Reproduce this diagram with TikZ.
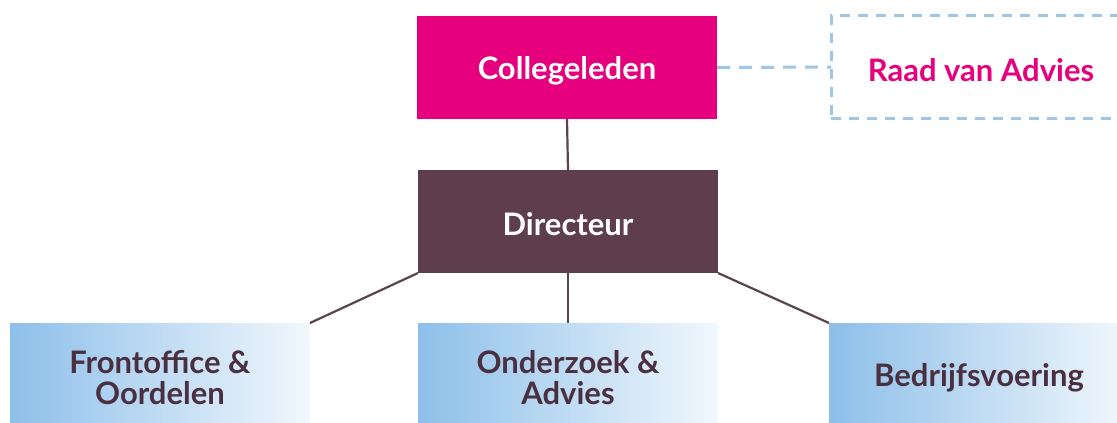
\documentclass[tikz,border=0pt]{standalone}
\usepackage{fontspec}
\setmainfont{Lato}[UprightFont=* Bold]
\definecolor{pinkc}{HTML}{E6007E}
\definecolor{mauve}{HTML}{5E3D4D}
\definecolor{dashblue}{HTML}{9EC6E6}
\definecolor{gradL}{HTML}{8DBFE9}
\definecolor{gradR}{HTML}{F2F8FD}
\definecolor{txtdark}{HTML}{4A2F40}
\definecolor{linec}{HTML}{5A4450}
\begin{document}
\begin{tikzpicture}[x=1pt,y=-1pt,
  box/.style={minimum width=300pt,minimum height=103pt,inner sep=0pt,outer sep=0pt},
  lbl/.style={align=center,font=\fontsize{31}{31}\selectfont,inner sep=0pt,yshift=-3pt},
  topbox/.style={box,fill=pinkc},
  dirbox/.style={box,fill=mauve},
  advbox/.style={box,draw=dashblue,line width=3pt,dash pattern=on 10pt off 8pt},
  unitbox/.style={box,left color=gradL,right color=gradR},
  conn/.style={draw=linec,line width=2.2pt},
  dconn/.style={draw=dashblue,line width=3pt,dash pattern=on 13pt off 9pt}]
\useasboundingbox (0,0) rectangle (1117,423);
\clip (0,0) rectangle (1117,423);
\fill[white] (0,0) rectangle (1117,423);
\node[topbox,label={[lbl,text=white]center:Collegeleden}] (col) at (567,67.5) {};
\node[dirbox,label={[lbl,text=white]center:Directeur}] (dir) at (568,221.5) {};
\node[advbox,label={[lbl,text=pinkc]center:Raad van Advies}] (raad) at (981,67) {};
\node[unitbox,label={[lbl,text=txtdark]center:{Frontoffice \&\\Oordelen}}] (front) at (160,374.5) {};
\node[unitbox,label={[lbl,text=txtdark]center:{Onderzoek \&\\Advies}}] (onder) at (568,374.5) {};
\node[unitbox,label={[lbl,text=txtdark]center:Bedrijfsvoering}] (bedr) at (979,374.5) {};
\draw[dconn] (col.east) -- (raad.west);
\draw[conn] (col.south) -- (dir.north);
\draw[conn] (dir.south west) -- (front.north east);
\draw[conn] (dir.south) -- (onder.north);
\draw[conn] (dir.south east) -- (bedr.north west);
\end{tikzpicture}
\end{document}
